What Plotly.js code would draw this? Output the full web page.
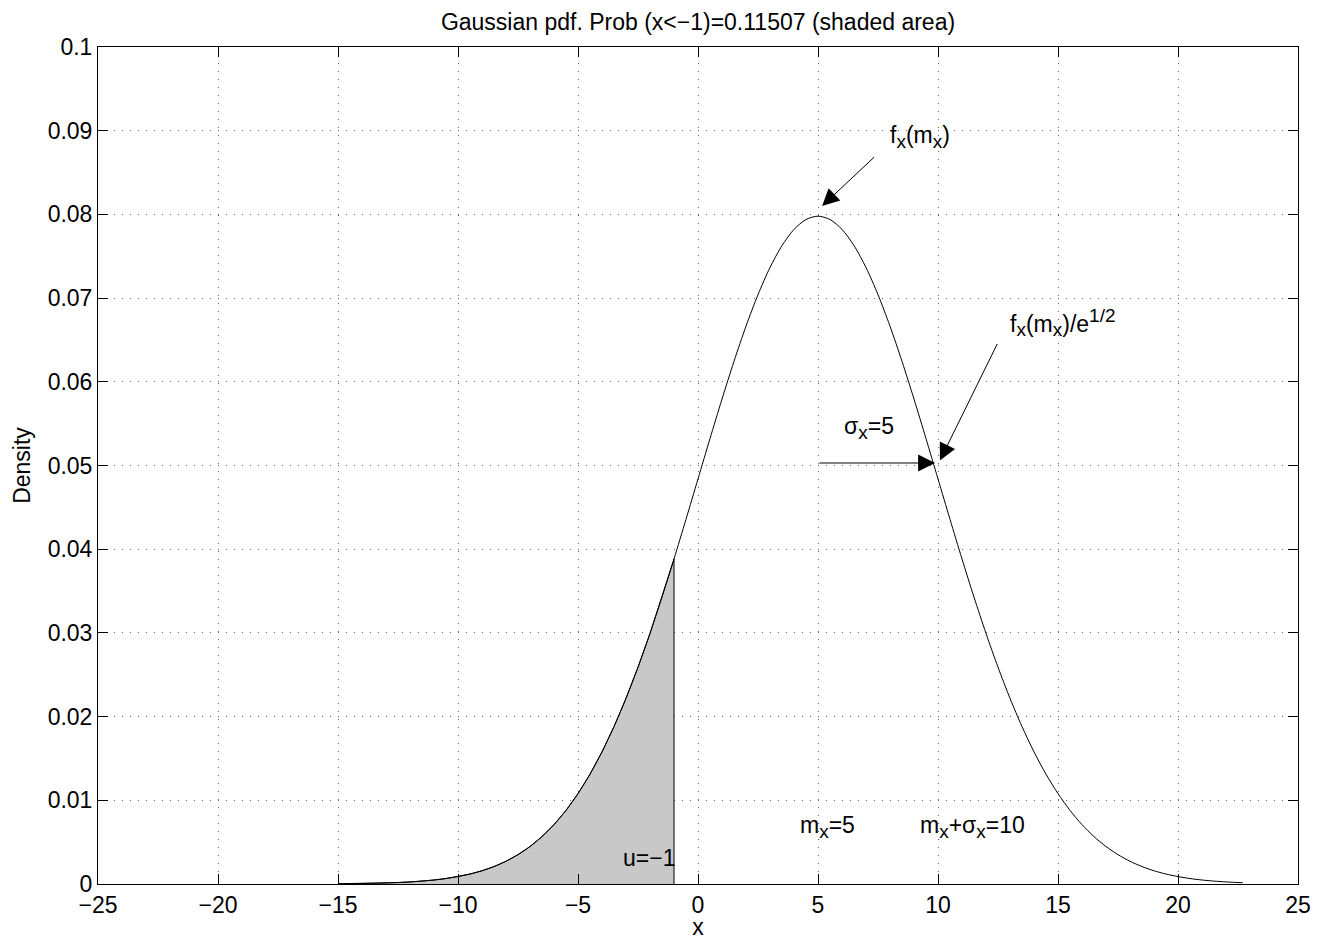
<!DOCTYPE html>
<html>
<head>
<meta charset="utf-8">
<script src="https://cdn.plot.ly/plotly-3.0.1.min.js"></script>
<style>html,body{margin:0;padding:0;background:#fff;}#chart{width:1325px;height:940px;}</style>
</head>
<body>
<div id="chart"></div>
<script>
// Gaussian density curve
const curveX = [-15,-14.5,-14,-13.5,-13,-12.5,-12,-11.5,-11,-10.5,-10,-9.5,-9,-8.5,-8,-7.5,-7,-6.5,-6,-5.5,-5,-4.5,-4,-3.5,-3,-2.5,-2,-1.5,-1,-0.5,0,0.5,1,1.5,2,2.5,3,3.5,4,4.5,5,5.5,6,6.5,7,7.5,8,8.5,9,9.5,10,10.5,11,11.5,12,12.5,13,13.5,14,14.5,15,15.5,16,16.5,17,17.5,18,18.5,19,19.5,20,20.5,21,21.5,22,22.5,22.7];
const curveY = [0.000027,0.000040,0.000058,0.000085,0.000122,0.000175,0.000247,0.000345,0.000477,0.000653,0.000886,0.001190,0.001583,0.002085,0.002717,0.003506,0.004479,0.005666,0.007095,0.008797,0.010798,0.013124,0.015790,0.018810,0.022184,0.025903,0.029945,0.034273,0.038837,0.043570,0.048394,0.053216,0.057938,0.062450,0.066645,0.070413,0.073654,0.076277,0.078209,0.079390,0.079788,0.079390,0.078209,0.076277,0.073654,0.070413,0.066645,0.062450,0.057938,0.053216,0.048394,0.043570,0.038837,0.034273,0.029945,0.025903,0.022184,0.018810,0.015790,0.013124,0.010798,0.008797,0.007095,0.005666,0.004479,0.003506,0.002717,0.002085,0.001583,0.001190,0.000886,0.000653,0.000477,0.000345,0.000247,0.000175,0.000152];
// shaded tail x < -1
const shadeX = [-15,-14.5,-14,-13.5,-13,-12.5,-12,-11.5,-11,-10.5,-10,-9.5,-9,-8.5,-8,-7.5,-7,-6.5,-6,-5.5,-5,-4.5,-4,-3.5,-3,-2.5,-2,-1.5,-1,-1];
const shadeY = [0.000027,0.000040,0.000058,0.000085,0.000122,0.000175,0.000247,0.000345,0.000477,0.000653,0.000886,0.001190,0.001583,0.002085,0.002717,0.003506,0.004479,0.005666,0.007095,0.008797,0.010798,0.013124,0.015790,0.018810,0.022184,0.025903,0.029945,0.034273,0.038837,0];
const xTicks = [-25,-20,-15,-10,-5,0,5,10,15,20,25];
const yTicks = [0,0.01,0.02,0.03,0.04,0.05,0.06,0.07,0.08,0.09,0.1];

const FONT = 'Liberation Sans, Arial, Helvetica, sans-serif';
const FS = 23;
const SUB = 'font-size:19px';

const traces = [
  {x: shadeX, y: shadeY, type: 'scatter', mode: 'lines', fill: 'tozeroy',
   fillcolor: '#c8c8c8', line: {color: '#000', width: 1}, hoverinfo: 'skip'},
  {x: curveX, y: curveY, type: 'scatter', mode: 'lines',
   line: {color: '#000', width: 1, shape: 'spline', smoothing: 0.8}, hoverinfo: 'skip'}
];

function sub(s) { return '<sub><span style="' + SUB + '">' + s + '</span></sub>'; }
function txt(x, y, t) {
  return {x: x, y: y, xref: 'x', yref: 'y', text: t, showarrow: false,
          xanchor: 'left', yanchor: 'middle', font: {family: FONT, size: FS, color: '#000'}};
}
function arr(x, y, ax, ay) {
  return {x: x, y: y, ax: ax, ay: ay, xref: 'x', yref: 'y', axref: 'x', ayref: 'y',
          text: '', showarrow: true, arrowhead: 2, arrowsize: 3.4, arrowwidth: 1,
          arrowcolor: '#000', standoff: 0, startstandoff: 0};
}

const axisCommon = {
  showline: true, linecolor: '#000', linewidth: 1, mirror: 'ticks',
  ticks: 'inside', ticklen: 10, tickcolor: '#000', tickwidth: 1,
  showgrid: true, gridcolor: '#666', gridwidth: 1, griddash: '1px,7px',
  zeroline: false, tickfont: {family: FONT, size: FS, color: '#000'}
};

const layout = {
  width: 1325, height: 940,
  margin: {l: 98, r: 27, t: 47, b: 56},
  paper_bgcolor: '#fff', plot_bgcolor: '#fff',
  showlegend: false,
  font: {family: FONT, size: FS, color: '#000'},
  title: {text: 'Gaussian pdf. Prob (x<−1)=0.11507 (shaded area)',
          font: {family: FONT, size: FS, color: '#000'},
          x: 0.5, xref: 'paper', xanchor: 'center', y: 1 - 22/940, yanchor: 'middle'},
  xaxis: Object.assign({}, axisCommon, {
    range: [-25, 25], tickvals: xTicks, ticktext: xTicks.map(v => v < 0 ? '−' + Math.abs(v) : String(v)),
    title: {text: 'x', font: {family: FONT, size: FS, color: '#000'}, standoff: 5}
  }),
  yaxis: Object.assign({}, axisCommon, {
    range: [0, 0.1], tickvals: yTicks, ticktext: yTicks.map(v => String(v)),
    title: {text: 'Density', font: {family: FONT, size: FS, color: '#000'}, standoff: 10}
  }),
  annotations: [
    arr(5.17, 0.081, 7.4, 0.087),
    arr(10.08, 0.0506, 12.5, 0.0647),
    arr(9.88, 0.0503, 5.0, 0.0503),
    txt(7.9, 0.0892, 'f' + sub('x') + '(m' + sub('x') + ')'),
    txt(12.9, 0.0671, 'f' + sub('x') + '(m' + sub('x') + ')/e<sup><span style="' + SUB + '">1/2</span></sup>'),
    txt(6.0, 0.0545, 'σ' + sub('x') + '=5'),
    txt(4.15, 0.0068, 'm' + sub('x') + '=5'),
    txt(9.15, 0.0068, 'm' + sub('x') + '+σ' + sub('x') + '=10'),
    txt(-3.2, 0.0031, 'u=−1')
  ]
};

Plotly.newPlot('chart', traces, layout, {displayModeBar: false, staticPlot: true});
</script>
</body>
</html>
